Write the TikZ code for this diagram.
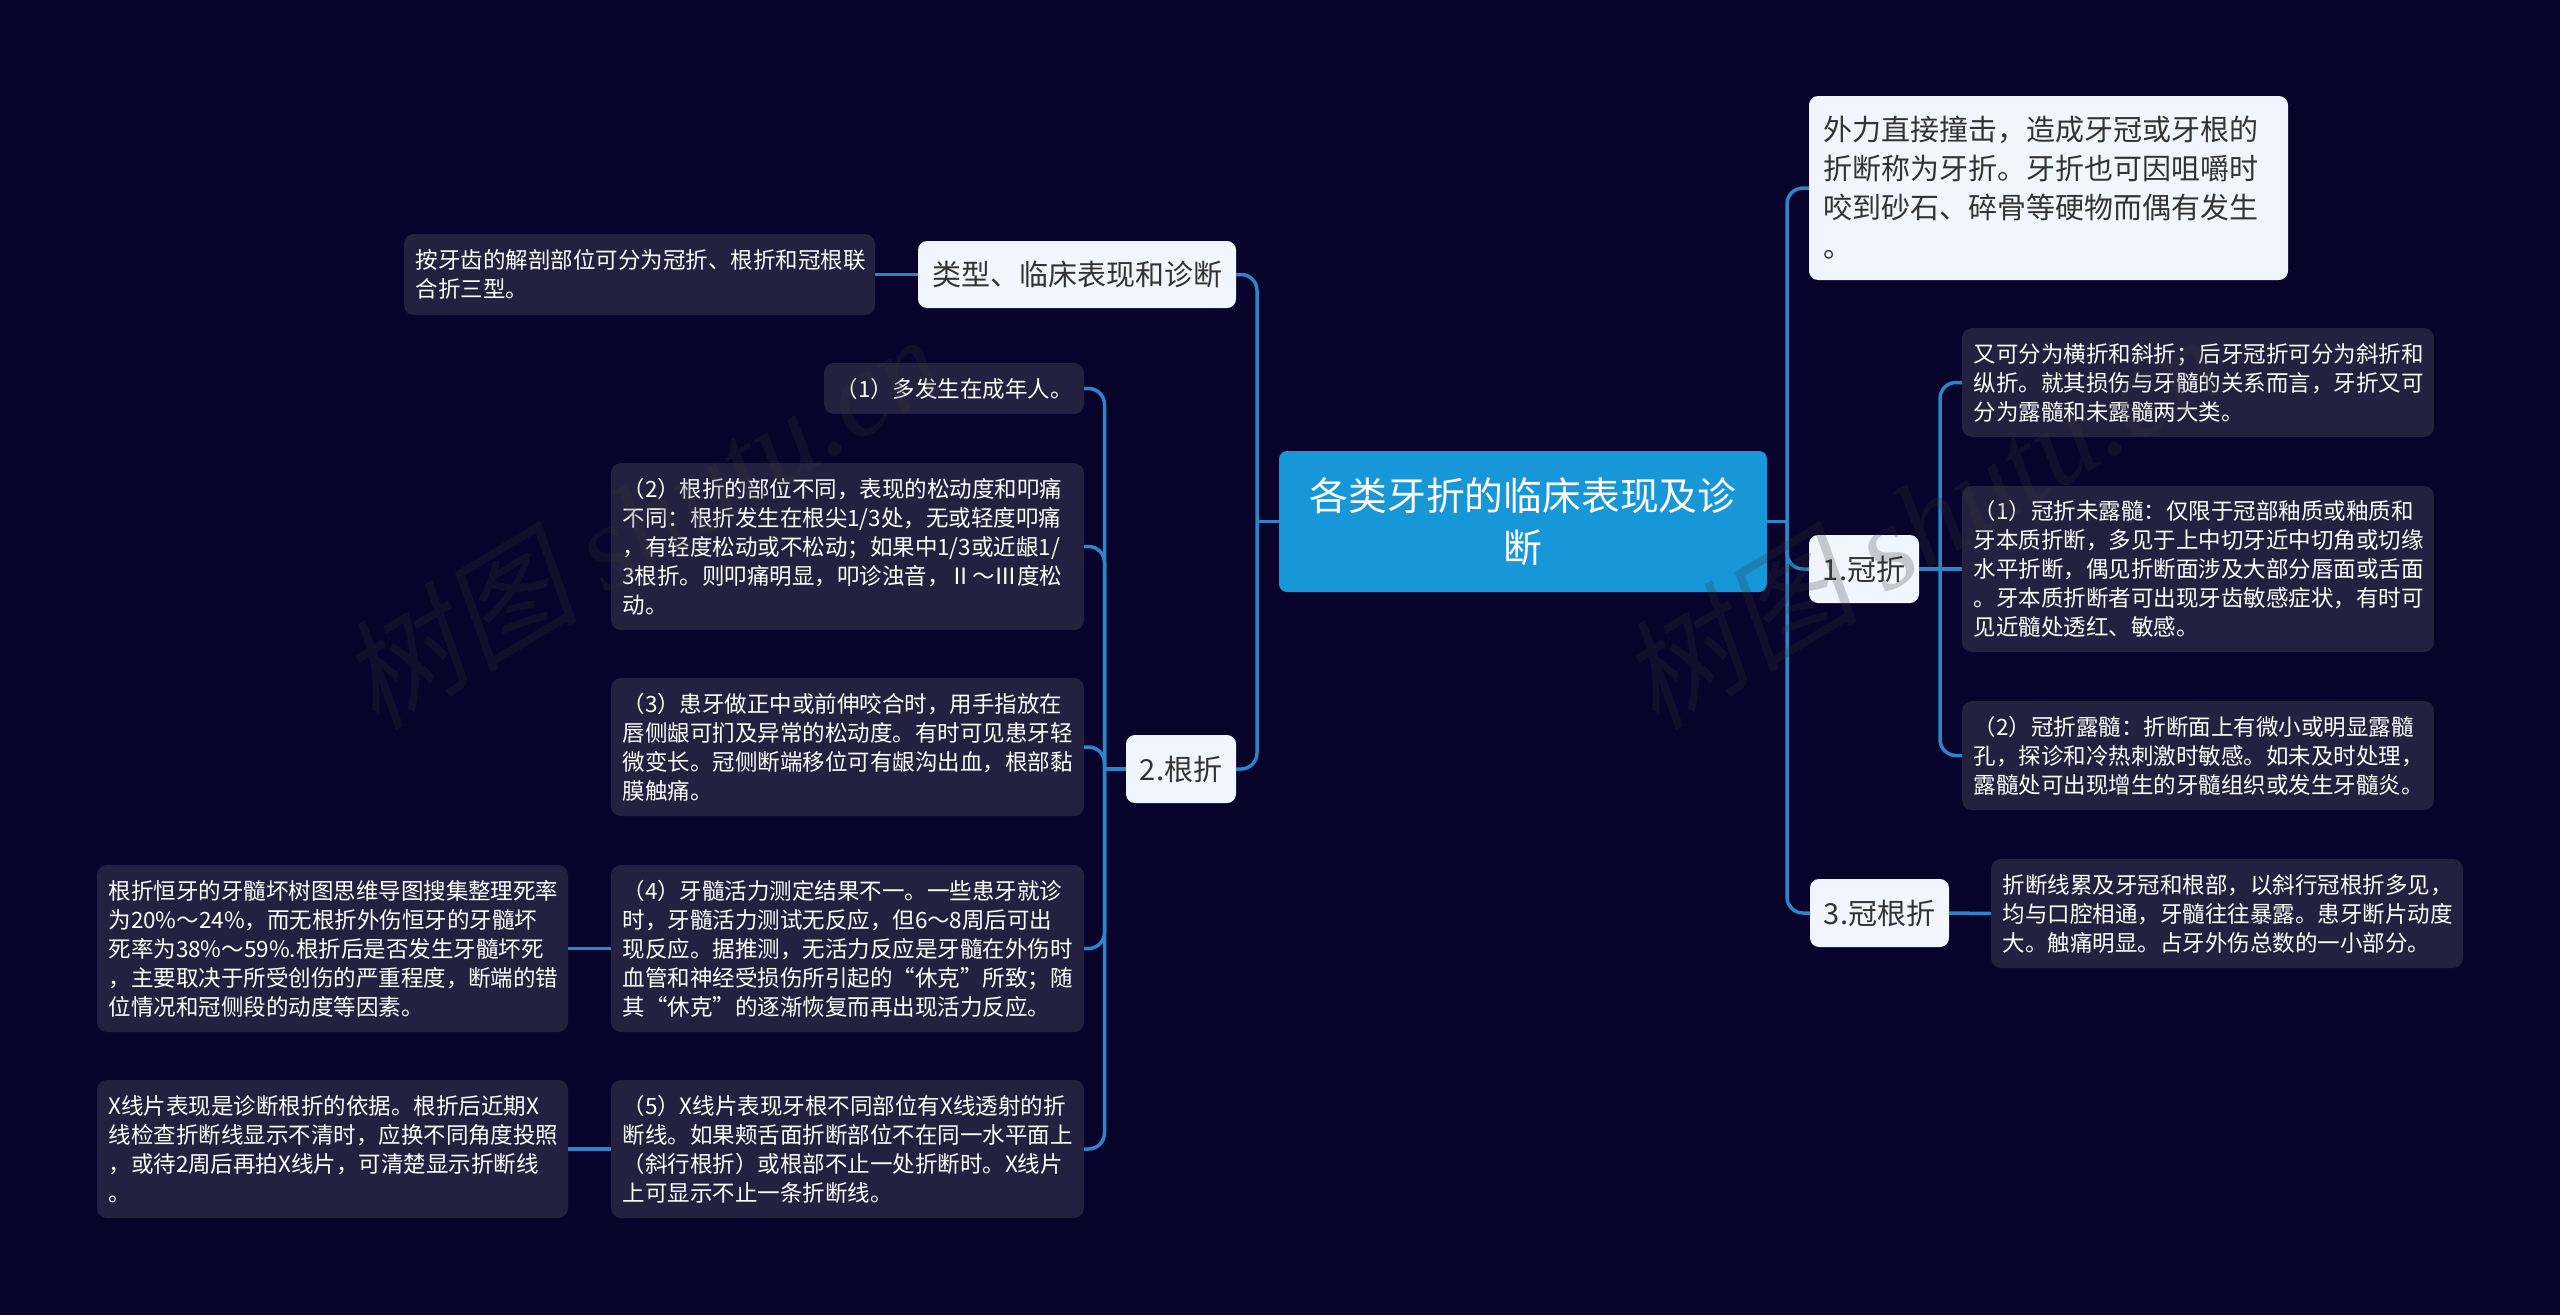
\documentclass[tikz,border=0pt]{standalone}
\usepackage{fontspec}
\setmainfont{Noto Sans CJK SC}
\newfontfamily\wmcjk[FakeSlant=0.2]{Noto Sans CJK SC}
\newfontfamily\wmlatin{Liberation Serif Italic}
\definecolor{bgc}{HTML}{07032B}
\definecolor{leafc}{HTML}{24203F}
\definecolor{lightc}{HTML}{F1F6FE}
\definecolor{rootc}{HTML}{1796D8}
\definecolor{linkc}{HTML}{2A85C9}
\definecolor{darktext}{HTML}{333333}
\definecolor{wmc}{HTML}{353535}
\newcommand{\fsS}{\fontsize{22.5pt}{29pt}\selectfont}
\newcommand{\fsM}{\fontsize{29pt}{39pt}\selectfont}
\newcommand{\fsL}{\fontsize{38.8pt}{52pt}\selectfont}
\tikzset{
  boxbase/.style={anchor=north west,inner ysep=0pt,outer sep=0pt,align=left},
  leaf/.style={boxbase,fill=leafc,text=white,rounded corners=10pt,inner xsep=11.5pt,font=\fsS},
  lightbox/.style={boxbase,fill=lightc,text=darktext,rounded corners=9pt,inner xsep=14pt,font=\fsM},
  tag/.style={boxbase,fill=lightc,text=darktext,rounded corners=9pt,inner xsep=0pt,align=center,font=\fsM},
  rootbox/.style={boxbase,fill=rootc,text=white,rounded corners=8pt,inner xsep=0pt,align=center,font=\fsL},
  link/.style={draw=linkc,line width=3.5pt},
  curved/.style={link,rounded corners=16pt},
  wmark/.style={text=wmc,text opacity=0.24,rotate=31,inner sep=0pt,font=\fontsize{120pt}{120pt}\selectfont},
}
\begin{document}
\begin{tikzpicture}[x=1pt,y=-1pt]
\useasboundingbox (0,0) rectangle (2560,1315);
\fill[bgc] (0,0) rectangle (2560,1315);

% centre
\node[rootbox,text width=488pt,minimum height=141pt] (root) at (1279,451) {各类牙折的临床表现及诊\\断};

% right side
\node[lightbox,text width=451pt,minimum height=184pt] (intro) at (1809,96) {外力直接撞击，造成牙冠或牙根的\\折断称为牙折。牙折也可因咀嚼时\\咬到砂石、碎骨等硬物而偶有发生\\。};
\node[tag,text width=110pt,minimum height=68pt] (crown) at (1809,535) {1.冠折};
\node[tag,text width=139pt,minimum height=68pt] (crownroot) at (1810,879) {3.冠根折};
\node[leaf,text width=449pt,minimum height=109pt] (ca) at (1962,328) {又可分为横折和斜折；后牙冠折可分为斜折和\\纵折。就其损伤与牙髓的关系而言，牙折又可\\分为露髓和未露髓两大类。};
\node[leaf,text width=449pt,minimum height=166pt] (cb) at (1962,486) {（1）冠折未露髓：仅限于冠部釉质或釉质和\\牙本质折断，多见于上中切牙近中切角或切缘\\水平折断，偶见折断面涉及大部分唇面或舌面\\。牙本质折断者可出现牙齿敏感症状，有时可\\见近髓处透红、敏感。};
\node[leaf,text width=449pt,minimum height=109pt] (cc) at (1962,701) {（2）冠折露髓：折断面上有微小或明显露髓\\孔，探诊和冷热刺激时敏感。如未及时处理，\\露髓处可出现增生的牙髓组织或发生牙髓炎。};
\node[leaf,text width=449pt,minimum height=109pt] (cd) at (1991,859) {折断线累及牙冠和根部，以斜行冠根折多见，\\均与口腔相通，牙髓往往暴露。患牙断片动度\\大。触痛明显。占牙外伤总数的一小部分。};

% left side
\node[tag,text width=318pt,minimum height=67pt] (types) at (918,241) {类型、临床表现和诊断};
\node[tag,text width=110pt,minimum height=68pt] (rootfrac) at (1126,735) {2.根折};
\node[leaf,text width=448pt,minimum height=81pt] (anat) at (404,234) {按牙齿的解剖部位可分为冠折、根折和冠根联\\合折三型。};
\node[leaf,text width=237pt,minimum height=51pt] (r1) at (824,363) {（1）多发生在成年人。};
\node[leaf,text width=450pt,minimum height=167pt] (r2) at (611,463) {（2）根折的部位不同，表现的松动度和叩痛\\不同：根折发生在根尖1/3处，无或轻度叩痛\\，有轻度松动或不松动；如果中1/3或近龈1/\\3根折。则叩痛明显，叩诊浊音，Ⅱ～Ⅲ度松\\动。};
\node[leaf,text width=450pt,minimum height=138pt] (r3) at (611,678) {（3）患牙做正中或前伸咬合时，用手指放在\\唇侧龈可扪及异常的松动度。有时可见患牙轻\\微变长。冠侧断端移位可有龈沟出血，根部黏\\膜触痛。};
\node[leaf,text width=450pt,minimum height=167pt] (r4) at (611,865) {（4）牙髓活力测定结果不一。一些患牙就诊\\时，牙髓活力测试无反应，但6～8周后可出\\现反应。据推测，无活力反应是牙髓在外伤时\\血管和神经受损伤所引起的“休克”所致；随\\其“休克”的逐渐恢复而再出现活力反应。};
\node[leaf,text width=450pt,minimum height=138pt] (r5) at (611,1080) {（5）X线片表现牙根不同部位有X线透射的折\\断线。如果颊舌面折断部位不在同一水平面上\\（斜行根折）或根部不止一处折断时。X线片\\上可显示不止一条折断线。};
\node[leaf,text width=448pt,minimum height=167pt] (r4n) at (97,865) {根折恒牙的牙髓坏树图思维导图搜集整理死率\\为20\%～24\%，而无根折外伤恒牙的牙髓坏\\死率为38\%～59\%.根折后是否发生牙髓坏死\\，主要取决于所受创伤的严重程度，断端的错\\位情况和冠侧段的动度等因素。};
\node[leaf,text width=448pt,minimum height=138pt] (r5n) at (97,1080) {X线片表现是诊断根折的依据。根折后近期X\\线检查折断线显示不清时，应换不同角度投照\\，或待2周后再拍X线片，可清楚显示折断线\\。};

% trunk junctions
\coordinate (jr) at (1787,521.5);
\coordinate (jl) at (1257,521.5);
\coordinate (jc) at (1940,569);
\coordinate (jf) at (1104.5,769);

% connectors, right
\draw[link] (root.east) -- (jr);
\draw[curved] (jr) -- (jr |- intro.west) -- (intro.west);
\draw[curved] (jr) -- (jr |- crown.west) -- (crown.west);
\draw[curved] (jr) -- (jr |- crownroot.west) -- (crownroot.west);
\draw[link] (crown.east) -- (jc);
\draw[curved] (jc) -- (jc |- ca.west) -- (ca.west);
\draw[link] (jc) -- (cb.west);
\draw[curved] (jc) -- (jc |- cc.west) -- (cc.west);
\draw[link] (crownroot.east) -- (cd.west);

% connectors, left
\draw[link] (root.west) -- (jl);
\draw[curved] (jl) -- (jl |- types.east) -- (types.east);
\draw[curved] (jl) -- (jl |- rootfrac.east) -- (rootfrac.east);
\draw[link] (types.west) -- (anat.east);
\draw[link] (rootfrac.west) -- (jf);
\draw[curved] (jf) -- (jf |- r1.east) -- (r1.east);
\draw[curved] (jf) -- (jf |- r2.east) -- (r2.east);
\draw[curved] (jf) -- (jf |- r3.east) -- (r3.east);
\draw[curved] (jf) -- (jf |- r4.east) -- (r4.east);
\draw[curved] (jf) -- (jf |- r5.east) -- (r5.east);
\draw[link] (r4.west) -- (r4n.east);
\draw[link] (r5.west) -- (r5n.east);

% watermark
\node[wmark] (wm1) at (640,520) {{\wmcjk 树图} {\wmlatin shutu.cn}};
\node[wmark] (wm2) at (1920,520) {{\wmcjk 树图} {\wmlatin shutu.cn}};
\end{tikzpicture}
\end{document}
